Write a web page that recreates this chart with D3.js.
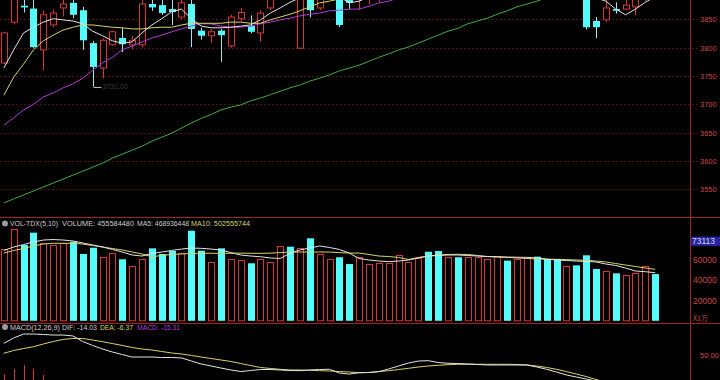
<!DOCTYPE html>
<html>
<head>
<meta charset="utf-8">
<script src="https://cdn.jsdelivr.net/npm/d3@7"></script>
<style>
  body { margin: 0; background: #000; }
  svg { display: block; }
</style>
</head>
<body>
<div id="chart"></div>
<script>
// candle data, one entry per trading day (67 days, left to right)
var opens = [3773,3845,3874,3869,3796,3840,3870,3879,3866,3808, 3764,3805,3817,3805,3805,3877,3875,3868,3854,3877,
             3830,3821,3830,3803,3851,3838,3826,3870,3890,3910, 3799,3905,3870,3890,3905,3884,3885,3888,3895,3908,
             3915,3928,3938,3952,3940,3926,3942,3930,3944,3950, 3958,3972,3958,3966,3978,3962,3948,3930,3940,3924,
             3847,3849,3868,3868,3872,3888,3902];
var highs = [3828,3900,3895,3888,3866,3867,3890,3895,3872,3812, 3816,3830,3835,3821,3884,3890,3886,3884,3892,3887,
             3835,3832,3833,3858,3870,3857,3866,3896,3912,3918, 3906,3910,3910,3915,3910,3890,3905,3912,3918,3928,
             3938,3946,3956,3958,3945,3946,3948,3950,3958,3966, 3976,3978,3975,3984,3982,3966,3952,3948,3945,3928,
             3854,3888,3880,3884,3896,3906,3910];
var lows = [3771,3841,3862,3799,3760,3836,3855,3852,3796,3731, 3746,3803,3792,3797,3800,3865,3858,3840,3850,3801,
            3814,3808,3775,3800,3846,3825,3810,3866,3885,3889, 3797,3853,3866,3886,3836,3868,3867,3877,3880,3900,
            3910,3922,3932,3932,3920,3920,3925,3926,3938,3945, 3952,3950,3952,3960,3955,3940,3925,3922,3918,3832,
            3817,3845,3860,3866,3857,3882,3884];
var closes = [3826,3893,3871,3801,3858,3861,3877,3858,3813,3766, 3813,3828,3806,3813,3877,3871,3861,3863,3879,3833,
              3821,3828,3822,3854,3862,3828,3861,3889,3905,3896, 3900,3866,3900,3908,3840,3879,3898,3905,3912,3920,
              3932,3940,3950,3938,3928,3940,3930,3944,3952,3960, 3970,3958,3968,3978,3962,3948,3932,3942,3925,3836,
              3836,3870,3865,3875,3890,3900,3890];

// moving averages of the price
var ma5 = [3764,3796,3826,3836,3845,3851,3849,3847,3842,3829, 3821,3812,3808,3810,3826,3840,3851,3863,3868,3851,
           3838,3835,3835,3836,3838,3840,3849,3861,3870,3880, 3888,3890,3893,3895,3890,3879,3882,3890,3896,3902,
           3910,3920,3930,3936,3940,3940,3938,3938,3940,3944, 3952,3958,3962,3966,3968,3965,3958,3952,3944,3918,
           3888,3882,3868,3858,3868,3880,3890];
var ma10 = [3716,3748,3771,3796,3812,3822,3831,3836,3840,3840, 3838,3836,3835,3833,3833,3835,3836,3836,3840,3843,
            3843,3843,3843,3845,3845,3843,3843,3849,3854,3859, 3865,3872,3879,3882,3886,3889,3892,3895,3900,3906,
            3912,3918,3924,3930,3934,3937,3940,3942,3944,3946, 3948,3950,3952,3955,3958,3960,3960,3958,3955,3945,
            3932,3922,3912,3905,3900,3896,3892];
var ma20 = [3663,3676,3690,3700,3713,3720,3729,3736,3746,3760, 3773,3783,3796,3803,3810,3817,3822,3828,3833,3838,
            3842,3842,3838,3836,3836,3838,3842,3845,3849,3852, 3856,3859,3861,3865,3866,3868,3868,3873,3879,3882,
            3888,3894,3900,3906,3912,3918,3922,3926,3930,3934, 3938,3941,3944,3946,3948,3950,3950,3949,3947,3942,
            3936,3930,3925,3920,3916,3912,3908];
var ma60 = [3526,3533,3540,3547,3554,3561,3568,3575,3582,3589, 3596,3605,3612,3619,3626,3635,3642,3649,3658,3667,
            3675,3682,3690,3695,3699,3706,3711,3717,3723,3729, 3734,3741,3746,3752,3759,3764,3769,3776,3783,3789,
            3796,3801,3808,3815,3822,3829,3834,3842,3847,3852, 3859,3865,3872,3877,3882,3888,3893,3898,3903,3906,
            3908,3911,3914,3917,3920,3923,3926];

// volume in units of 10k shares
var volumes = [69800,89300,74000,86000,75600,74000,75600,77200,65200,71300, 62600,66500,60000,53800,60000,70700,65200,68100,65800,87900,
               68400,57100,70700,60000,59300,56100,60000,57700,73000,72300, 71300,80500,64900,60000,62000,55400,62000,55100,56700,56700,
               64200,57700,61000,67400,68100,62600,62000,62600,62600,60000, 63500,58700,60000,61000,62600,60300,60300,53500,54100,63900,
               50500,48600,46300,44700,46300,53500,45558];
var volMa5 = [68600,72000,74400,76900,78800,79300,78800,77900,75900,74000, 72000,69600,67100,64200,63200,65700,67100,68600,70000,71000,
              70700,70000,69100,66600,64200,63200,62500,61300,60800,65900, 69100,71000,73000,71500,69600,66100,60800,59300,58300,57700,
              58300,59300,61300,63200,63700,64200,64200,63700,63200,62700, 62500,62200,62000,61900,61300,60300,59300,58800,58300,57900,
              57400,55400,54000,51500,48600,47900,46894];
var volMa10 = [66100,68600,70500,73000,74900,75600,75600,75600,74900,73500, 72000,70500,69100,67100,65200,62500,63700,64700,65200,65700,
               65900,65900,65800,65900,66000,65900,65800,66000,66500,67100, 67100,67100,67100,67100,66500,66100,66100,64700,63200,62700,
               61800,59800,61800,63200,64200,64700,64900,64700,63700,62700, 62200,61800,61300,60800,60300,60000,60000,59800,59300,59000,
               58300,57400,55900,54400,53000,51500,50256];

// MACD(12,26,9)
var dif = [65.0,71.8,76.9,76.9,76.3,75.6,75.6,74.4,67.3,62.2, 57.7,53.8,50.6,47.4,47.4,47.4,46.8,46.8,46.2,42.3,
           38.5,35.9,33.3,30.8,28.8,30.1,31.4,31.4,30.8,30.1, 29.9,30.8,31.4,31.7,26.9,25.6,27.3,27.6,28.6,32.1,
           35.9,39.7,42.3,42.7,40.4,39.4,39.1,38.5,37.8,37.2, 37.2,37.2,37.2,37.2,34.6,31.7,28.2,24.4,21.8,19.2,
           16.7,14.1,10.3,5.1,0.0,-6.4,-14.03];
var dea = [52.2,55.8,58.3,60.6,64.1,67.3,69.9,71.2,71.2,69.2, 67.1,64.7,62.2,59.6,57.7,56.4,54.5,52.6,51.3,49.4,
           47.4,45.5,43.6,41.7,39.1,36.5,34.0,32.7,31.7,30.8, 30.8,30.4,29.9,29.5,28.8,28.2,27.3,27.6,28.8,29.9,
           31.4,32.9,34.6,35.9,36.8,37.6,38.1,38.1,38.1,38.1, 38.1,38.1,37.8,37.2,35.9,34.0,31.7,28.8,25.6,22.4,
           18.6,14.7,10.3,5.8,1.9,-2.6,-6.37];
var macdBars = [25.6,32.0,37.2,32.6,24.4,16.6,11.4,6.4,-7.8,-14.0, -18.8,-21.8,-23.2,-24.4,-20.6,-18.0,-15.4,-11.6,-10.2,-14.2,
                -17.8,-19.2,-20.6,-21.8,-20.6,-12.8,-5.2,-2.6,-1.8,-1.4, -1.8,0.8,3.0,4.4,-3.8,-5.2,0,0,-0.4,4.4,
                9.0,13.6,15.4,13.6,7.2,3.6,2.0,0.8,-0.6,-1.8, -1.8,-1.8,-1.2,0,-2.6,-4.6,-7.0,-8.8,-7.6,-6.4,
                -3.8,-1.2,0,-1.4,-3.8,-7.6,-15.32];

// axis ticks
var priceTicks = [3550, 3600, 3650, 3700, 3750, 3800, 3850];
var volTicks = [20000, 40000, 60000];
var macdTicks = [50];

var width = 720, height = 380;
var plotRight = 690;
var mainBottom = 217, volBottom = 323;

var upColor = "#d63636", downColor = "#54fcfc", downWick = "#9fe6e6";
var lineRed = "#a02222", gridRed = "#4e1010", axisText = "#cc4646";
var white = "#e4e4e4", yellow = "#d8d46a", purple = "#b23cd6";
var font = "Liberation Sans, Arial, sans-serif";

var svg = d3.select("#chart").append("svg")
    .attr("width", width)
    .attr("height", height)
    .style("background", "#000");

var defs = svg.append("defs");
function clip(id, y0, y1) {
  defs.append("clipPath").attr("id", id)
    .append("rect").attr("x", 0).attr("y", y0).attr("width", plotRight).attr("height", y1 - y0);
}
clip("clipMain", 0, mainBottom);
clip("clipVol", mainBottom + 1, volBottom);
clip("clipMacd", volBottom + 1, height);

// scales
var x = d3.scaleLinear().domain([0, 66]).range([3.83, 655.2]);
var yPrice = d3.scaleLinear().domain([3550, 3850]).range([189.3, 19.3]);
var yVol = d3.scaleLinear().domain([0, 60000]).range([320.8, 259.3]);
var yMacd = d3.scaleLinear().domain([0, 50]).range([394, 355]);

var idx = d3.range(closes.length);
function px(i) { return Math.round(x(i)) + 0.5; }
function isUp(i) { return closes[i] >= opens[i]; }

// price grid lines
svg.append("g").selectAll("line")
  .data(priceTicks).enter().append("line")
  .attr("x1", 0).attr("x2", plotRight + 8)
  .attr("y1", function(d) { return Math.round(yPrice(d)) + 0.5; })
  .attr("y2", function(d) { return Math.round(yPrice(d)) + 0.5; })
  .attr("stroke", gridRed)
  .attr("stroke-dasharray", "2,2");

// panel borders
svg.append("line").attr("x1", plotRight + 0.5).attr("x2", plotRight + 0.5)
  .attr("y1", 0).attr("y2", height).attr("stroke", lineRed);
[mainBottom, volBottom].forEach(function(y) {
  svg.append("line").attr("x1", 0).attr("x2", width)
    .attr("y1", y + 0.5).attr("y2", y + 0.5).attr("stroke", lineRed);
});

// candles
var main = svg.append("g").attr("clip-path", "url(#clipMain)");
idx.forEach(function(i) {
  var cx = px(i);
  var top = yPrice(Math.max(opens[i], closes[i]));
  var bot = yPrice(Math.min(opens[i], closes[i]));
  if (isUp(i)) {
    main.append("line").attr("x1", cx).attr("x2", cx)
      .attr("y1", yPrice(highs[i])).attr("y2", top).attr("stroke", upColor);
    main.append("line").attr("x1", cx).attr("x2", cx)
      .attr("y1", bot).attr("y2", yPrice(lows[i])).attr("stroke", upColor);
    main.append("rect")
      .attr("x", cx - 3).attr("y", top)
      .attr("width", 6).attr("height", Math.max(1, bot - top))
      .attr("fill", "#000").attr("stroke", upColor);
  } else {
    main.append("line").attr("x1", cx).attr("x2", cx)
      .attr("y1", yPrice(highs[i])).attr("y2", yPrice(lows[i])).attr("stroke", downWick);
    main.append("rect")
      .attr("x", cx - 3.5).attr("y", top)
      .attr("width", 7).attr("height", Math.max(1, bot - top))
      .attr("fill", downColor);
  }
});

// price moving averages
function drawLine(g, values, yScale, color) {
  var line = d3.line()
      .x(function(d, i) { return x(i); })
      .y(function(d) { return yScale(d); });
  g.append("path").datum(values)
    .attr("d", line)
    .attr("fill", "none")
    .attr("stroke", color)
    .attr("stroke-width", 1);
}
drawLine(main, ma60, yPrice, "#3fae3f");
drawLine(main, ma20, yPrice, purple);
drawLine(main, ma10, yPrice, yellow);
drawLine(main, ma5, yPrice, white);

// lowest price marker
var lowI = d3.minIndex(lows);
main.append("line")
  .attr("x1", px(lowI)).attr("x2", px(lowI) + 8)
  .attr("y1", Math.round(yPrice(lows[lowI])) + 0.5).attr("y2", Math.round(yPrice(lows[lowI])) + 0.5)
  .attr("stroke", "#bbbbbb");
main.append("text")
  .attr("x", px(lowI) + 9).attr("y", yPrice(lows[lowI]) + 2.5)
  .attr("font-family", font)
  .attr("font-size", "7px")
  .attr("fill", "#3a3a3a")
  .text(lows[lowI].toFixed(2));

// volume bars
var vol = svg.append("g").attr("clip-path", "url(#clipVol)");
idx.forEach(function(i) {
  var cx = px(i);
  var top = yVol(volumes[i]);
  if (isUp(i)) {
    vol.append("rect")
      .attr("x", cx - 3).attr("y", Math.round(top) + 0.5)
      .attr("width", 6).attr("height", yVol(0) - Math.round(top) - 0.5)
      .attr("fill", "none").attr("stroke", upColor);
  } else {
    vol.append("rect")
      .attr("x", cx - 3.5).attr("y", top)
      .attr("width", 7).attr("height", yVol(0) - top)
      .attr("fill", downColor);
  }
});
drawLine(vol, volMa10, yVol, yellow);
drawLine(vol, volMa5, yVol, white);

// macd panel
var macd = svg.append("g").attr("clip-path", "url(#clipMacd)");
idx.forEach(function(i) {
  macd.append("line")
    .attr("x1", px(i)).attr("x2", px(i))
    .attr("y1", yMacd(0)).attr("y2", yMacd(macdBars[i]))
    .attr("stroke", macdBars[i] >= 0 ? upColor : downColor);
});
drawLine(macd, dea, yMacd, yellow);
drawLine(macd, dif, yMacd, white);

// right-hand axes
function rightAxis(scale, ticks, fmt, size) {
  var g = svg.append("g")
    .attr("transform", "translate(" + plotRight + ",0)")
    .call(d3.axisRight(scale).tickValues(ticks).tickSize(0).tickPadding(10).tickFormat(fmt));
  g.select(".domain").remove();
  g.selectAll("text")
    .attr("fill", axisText)
    .attr("font-family", font)
    .attr("font-size", size);
  return g;
}
rightAxis(yPrice, priceTicks, d3.format("d"), "7.5px");
rightAxis(yVol, volTicks, d3.format("d"), "8.5px").selectAll("text").attr("dx", -7);
rightAxis(yMacd, macdTicks, d3.format(".2f"), "7.5px");

// current max volume tag
svg.append("rect").attr("x", 691).attr("y", 236.5).attr("width", 29).attr("height", 9.5).attr("fill", "#23239a");
svg.append("text").attr("x", 692).attr("y", 244.3)
  .attr("font-family", font).attr("font-size", "8.5px")
  .attr("fill", "#d8d8ff").text("73113");
svg.append("text").attr("x", 693).attr("y", 321)
  .attr("font-family", "Noto Sans CJK SC, sans-serif").attr("font-size", "7px")
  .attr("fill", axisText).text("X1万");

// panel headers: [x, width, text, colour]
function header(y, parts) {
  svg.append("circle").attr("cx", 5).attr("cy", y - 2.6).attr("r", 3).attr("fill", "#9a9a9a");
  parts.forEach(function(p) {
    svg.append("text").attr("x", p[0]).attr("y", y)
      .attr("font-family", font)
      .attr("font-size", "7.2px")
      .attr("textLength", p[1])
      .attr("lengthAdjust", "spacingAndGlyphs")
      .attr("fill", p[3])
      .text(p[2]);
  });
}
header(226, [
  [10, 48, "VOL-TDX(5,10)", "#cfcfcf"],
  [62, 72, "VOLUME: 455584480", "#cfcfcf"],
  [137, 52, "MA5: 468936448", "#cfcfcf"],
  [191, 59, "MA10: 502555744", yellow]
]);
header(329.5, [
  [10, 50, "MACD(12,26,9)", "#cfcfcf"],
  [62, 35, "DIF: " + dif[66].toFixed(2), "#cfcfcf"],
  [100, 33, "DEA: " + dea[66].toFixed(2), yellow],
  [137, 43, "MACD: -15.31", purple]
]);
</script>
</body>
</html>
